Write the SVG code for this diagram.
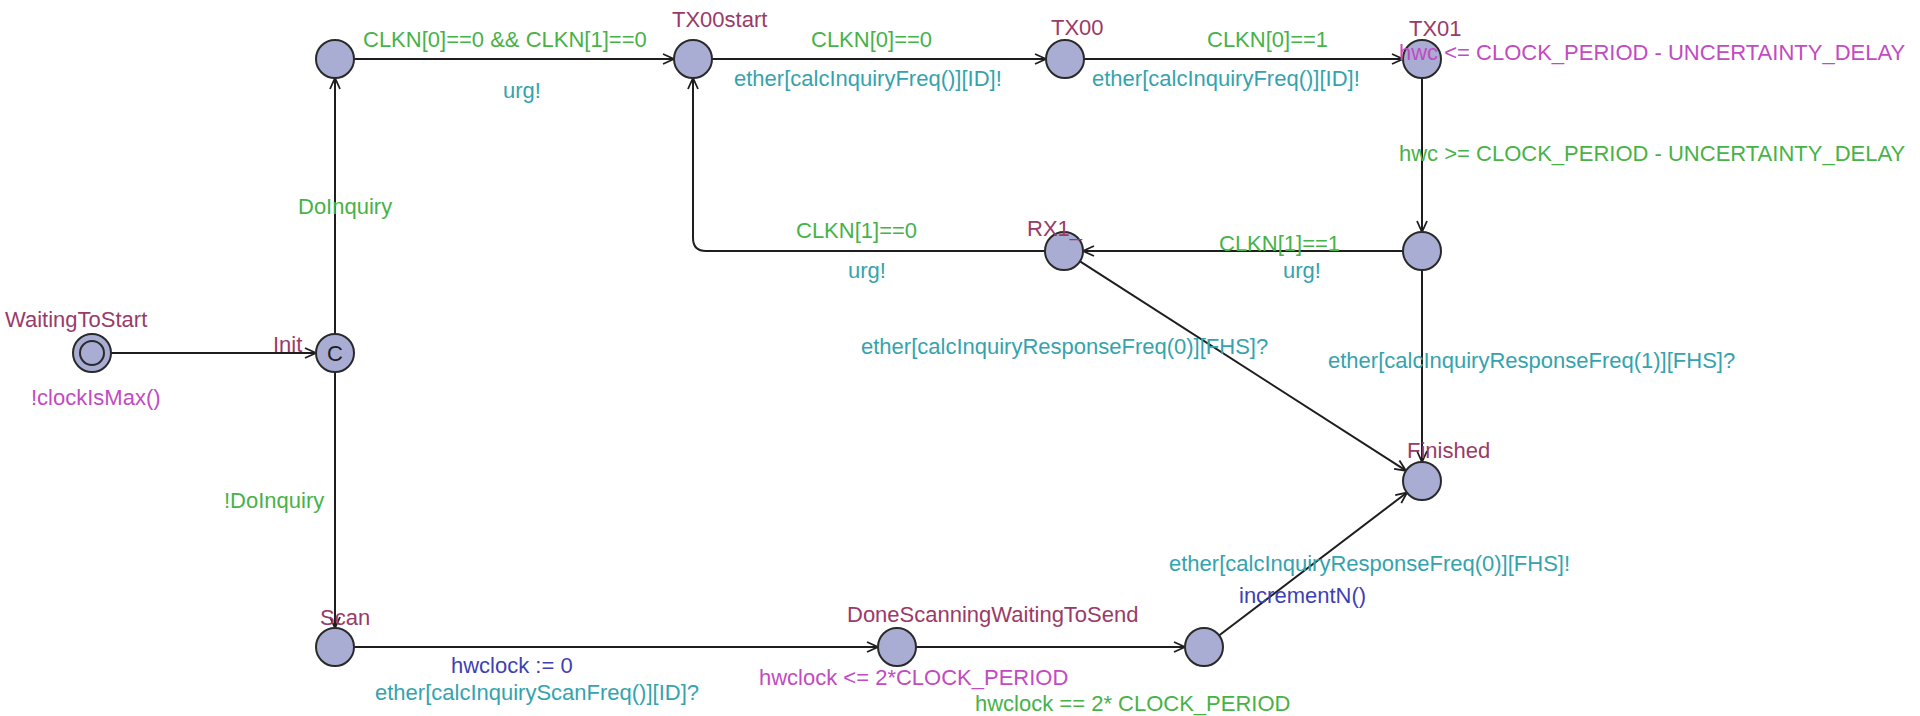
<svg xmlns="http://www.w3.org/2000/svg" width="1920" height="716" viewBox="0 0 1920 716">
  <style>
    text { font-family: "Liberation Sans", Arial, sans-serif; font-size: 22px; }
    .name { fill: #9a3a68; }
    .guard { fill: #47b247; }
    .sync { fill: #35a3ad; }
    .inv { fill: #c24ac2; }
    .upd { fill: #3f3fb5; }
    .loc { fill: #a9add3; stroke: #2a2a2a; stroke-width: 2; }
    .edge { fill: none; stroke: #1e1e1e; stroke-width: 2; }
  </style>
  <defs>
    <marker id="arrow" markerUnits="userSpaceOnUse" markerWidth="16" markerHeight="14" viewBox="-12 -7 14 14" refX="0" refY="0" orient="auto">
      <path d="M -11 -5 L 0 0 L -11 5" fill="none" stroke="#1e1e1e" stroke-width="1.8"/>
    </marker>
  </defs>
  <rect width="1920" height="716" fill="#ffffff"/>

  <!-- transitions -->
  <g id="edges">
    <line class="edge" x1="111" y1="353" x2="316" y2="353" marker-end="url(#arrow)"/>
    <line class="edge" x1="335" y1="334" x2="335" y2="78" marker-end="url(#arrow)"/>
    <line class="edge" x1="335" y1="372" x2="335" y2="628" marker-end="url(#arrow)"/>
    <line class="edge" x1="354" y1="59" x2="674" y2="59" marker-end="url(#arrow)"/>
    <line class="edge" x1="712" y1="59" x2="1046" y2="59" marker-end="url(#arrow)"/>
    <line class="edge" x1="1084" y1="59" x2="1403" y2="59" marker-end="url(#arrow)"/>
    <line class="edge" x1="1422" y1="78" x2="1422" y2="232" marker-end="url(#arrow)"/>
    <line class="edge" x1="1403" y1="251" x2="1083" y2="251" marker-end="url(#arrow)"/>
    <path class="edge" d="M 1045 251 L 706 251 Q 693 251 693 238 L 693 78" marker-end="url(#arrow)"/>
    <line class="edge" x1="1080" y1="261.3" x2="1406" y2="470.7" marker-end="url(#arrow)"/>
    <line class="edge" x1="1422" y1="270" x2="1422" y2="462" marker-end="url(#arrow)"/>
    <line class="edge" x1="354" y1="647" x2="878" y2="647" marker-end="url(#arrow)"/>
    <line class="edge" x1="916" y1="647" x2="1185" y2="647" marker-end="url(#arrow)"/>
    <line class="edge" x1="1219" y1="635.5" x2="1407" y2="492.5" marker-end="url(#arrow)"/>
  </g>

  <!-- transition labels -->
  <g id="edge-labels">
    <text class="guard" x="298" y="214">DoInquiry</text>
    <text class="guard" x="224" y="508">!DoInquiry</text>
    <text class="guard" x="363" y="47">CLKN[0]==0 &amp;&amp; CLKN[1]==0</text>
    <text class="sync" x="503" y="98">urg!</text>
    <text class="guard" x="811" y="47">CLKN[0]==0</text>
    <text class="sync" x="734" y="86">ether[calcInquiryFreq()][ID]!</text>
    <text class="guard" x="1207" y="47">CLKN[0]==1</text>
    <text class="sync" x="1092" y="86">ether[calcInquiryFreq()][ID]!</text>
    <text class="guard" x="1399" y="161">hwc &gt;= CLOCK_PERIOD - UNCERTAINTY_DELAY</text>
    <text class="guard" x="796" y="238">CLKN[1]==0</text>
    <text class="sync" x="848" y="278">urg!</text>
    <text class="guard" x="1219" y="251">CLKN[1]==1</text>
    <text class="sync" x="1283" y="278">urg!</text>
    <text class="sync" x="861" y="354">ether[calcInquiryResponseFreq(0)][FHS]?</text>
    <text class="sync" x="1328" y="368">ether[calcInquiryResponseFreq(1)][FHS]?</text>
    <text class="sync" x="1169" y="571">ether[calcInquiryResponseFreq(0)][FHS]!</text>
    <text class="upd" x="1239" y="603">incrementN()</text>
    <text class="upd" x="451" y="673">hwclock := 0</text>
    <text class="sync" x="375" y="700">ether[calcInquiryScanFreq()][ID]?</text>
    <text class="guard" x="975" y="711">hwclock == 2* CLOCK_PERIOD</text>
  </g>

  <!-- locations -->
  <g id="WaitingToStart">
    <circle class="loc" cx="92" cy="353" r="19"/>
    <circle cx="92" cy="353" r="12" fill="none" stroke="#2a2a2a" stroke-width="2"/>
    <text class="name" x="5" y="327">WaitingToStart</text>
    <text class="inv" x="31" y="405">!clockIsMax()</text>
  </g>
  <g id="Init">
    <circle class="loc" cx="335" cy="353" r="19"/>
    <text x="335" y="361" text-anchor="middle" fill="#1e1e1e" style="font-size:22px">C</text>
    <text class="name" x="273" y="352">Init</text>
  </g>
  <g id="Inquiry">
    <circle class="loc" cx="335" cy="59" r="19"/>
  </g>
  <g id="TX00start">
    <circle class="loc" cx="693" cy="59" r="19"/>
    <text class="name" x="672" y="27">TX00start</text>
  </g>
  <g id="TX00">
    <circle class="loc" cx="1065" cy="59" r="19"/>
    <text class="name" x="1051" y="35">TX00</text>
  </g>
  <g id="TX01">
    <circle class="loc" cx="1422" cy="59" r="19"/>
    <text class="name" x="1409" y="36">TX01</text>
    <text class="inv" x="1399" y="60">hwc &lt;= CLOCK_PERIOD - UNCERTAINTY_DELAY</text>
  </g>
  <g id="RX1wait">
    <circle class="loc" cx="1422" cy="251" r="19"/>
  </g>
  <g id="RX1_">
    <circle class="loc" cx="1064" cy="251" r="19"/>
    <text class="name" x="1027" y="236">RX1_</text>
  </g>
  <g id="Finished">
    <circle class="loc" cx="1422" cy="481" r="19"/>
    <text class="name" x="1407" y="458">Finished</text>
  </g>
  <g id="Scan">
    <circle class="loc" cx="335" cy="647" r="19"/>
    <text class="name" x="320" y="625">Scan</text>
  </g>
  <g id="DoneScanningWaitingToSend">
    <circle class="loc" cx="897" cy="647" r="19"/>
    <text class="name" x="847" y="622">DoneScanningWaitingToSend</text>
    <text class="inv" x="759" y="685">hwclock &lt;= 2*CLOCK_PERIOD</text>
  </g>
  <g id="Respond">
    <circle class="loc" cx="1204" cy="647" r="19"/>
  </g>
</svg>
